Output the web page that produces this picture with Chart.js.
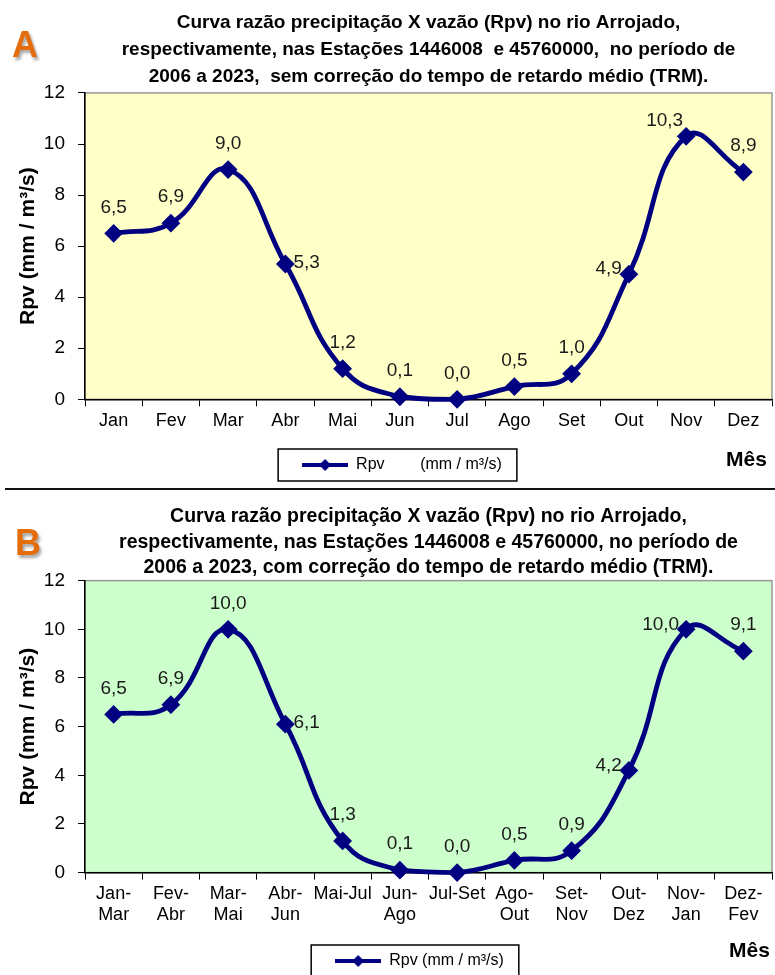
<!DOCTYPE html>
<html lang="pt">
<head>
<meta charset="UTF-8">
<title>Curva razão precipitação X vazão (Rpv)</title>
<script src="https://cdn.jsdelivr.net/npm/chart.js@4.4.1/dist/chart.umd.min.js"></script>
<style>
    body { margin: 0; background: #fff; font-family: "Liberation Sans", Arial, sans-serif; }
    .page { position: relative; width: 775px; height: 975px; overflow: hidden; }
    .box { position: absolute; left: 0; width: 775px; }
    .badge {
        position: absolute; font: bold 36px "Liberation Sans", Arial, sans-serif;
        color: #e46c0a; text-shadow: 2px 3px 3px rgba(0,0,0,0.35);
    }
    .mes { position: absolute; font: bold 21px "Liberation Sans", Arial, sans-serif; color: #000; }
    .sep { position: absolute; left: 5px; right: 0; top: 488px; height: 2px; background: #111; }
</style>
</head>
<body>
<div class="page">
    <div class="box" style="top:0;height:488px"><canvas id="chartA"></canvas></div>
    <div class="sep"></div>
    <div class="box" style="top:492px;height:483px"><canvas id="chartB"></canvas></div>
    <div class="badge" style="left:12px;top:24px">A</div>
    <div class="badge" style="left:15px;top:522px">B</div>
    <div class="mes" style="left:726px;top:447px">Mês</div>
    <div class="mes" style="left:729px;top:938px">Mês</div>
</div>

<script>
    // dados
    const mesesA = ['Jan', 'Fev', 'Mar', 'Abr', 'Mai', 'Jun', 'Jul', 'Ago', 'Set', 'Out', 'Nov', 'Dez'];
    const rpvA = [6.5, 6.9, 9.0, 5.3, 1.2, 0.1, 0.0, 0.5, 1.0, 4.9, 10.3, 8.9];

    const mesesB = [['Jan-', 'Mar'], ['Fev-', 'Abr'], ['Mar-', 'Mai'], ['Abr-', 'Jun'], 'Mai-Jul', ['Jun-', 'Ago'],
                    'Jul-Set', ['Ago-', 'Out'], ['Set-', 'Nov'], ['Out-', 'Dez'], ['Nov-', 'Jan'], ['Dez-', 'Fev']];
    const rpvB = [6.5, 6.9, 10.0, 6.1, 1.3, 0.1, 0.0, 0.5, 0.9, 4.2, 10.0, 9.1];

    const yTicks = [0, 2, 4, 6, 8, 10, 12];

    // onde fica cada rótulo de valor em relação ao ponto
    const posA = ['top', 'top', 'top', 'right', 'top', 'top', 'top', 'top', 'top', 'left', 'topleft', 'top'];
    const posB = ['top', 'top', 'top', 'right', 'top', 'top', 'top', 'top', 'top', 'left', 'left', 'top'];

    const titleA = ['Curva razão precipitação X vazão (Rpv) no rio Arrojado,',
                    'respectivamente, nas Estações 1446008  e 45760000,  no período de',
                    '2006 a 2023,  sem correção do tempo de retardo médio (TRM).'];
    const titleB = ['Curva razão precipitação X vazão (Rpv) no rio Arrojado,',
                    'respectivamente, nas Estações 1446008 e 45760000, no período de',
                    '2006 a 2023, com correção do tempo de retardo médio (TRM).'];

    const navy = '#000080';
    const FONT = '"Liberation Sans", Arial, sans-serif';

    // ícone da legenda: linha com losango
    function legendIcon() {
        const c = document.createElement('canvas');
        c.width = 46; c.height = 12;
        const g = c.getContext('2d');
        g.strokeStyle = navy; g.lineWidth = 4;
        g.beginPath(); g.moveTo(0, 6); g.lineTo(46, 6); g.stroke();
        g.fillStyle = navy;
        g.beginPath(); g.moveTo(23, 0); g.lineTo(29, 6); g.lineTo(23, 12); g.lineTo(17, 6); g.closePath(); g.fill();
        return c;
    }

    const plotBg = {
        id: 'plotBg',
        beforeDraw(chart, args, opts) {
            const { ctx, chartArea: a } = chart;
            ctx.save();
            ctx.fillStyle = opts.color;
            ctx.fillRect(a.left, a.top, a.right - a.left, a.bottom - a.top);
            ctx.strokeStyle = '#999';
            ctx.lineWidth = 1.5;
            ctx.strokeRect(a.left, a.top, a.right - a.left, a.bottom - a.top);
            ctx.restore();
        }
    };

    const valueLabels = {
        id: 'valueLabels',
        afterDatasetsDraw(chart, args, opts) {
            const { ctx } = chart;
            const meta = chart.getDatasetMeta(0);
            const vals = chart.data.datasets[0].data;
            ctx.save();
            ctx.font = '19px ' + FONT;
            ctx.fillStyle = '#1a1a1a';
            ctx.textBaseline = 'middle';
            meta.data.forEach((pt, i) => {
                const txt = vals[i].toFixed(1).replace('.', ',');
                const p = opts.pos[i];
                if (p === 'left') { ctx.textAlign = 'right'; ctx.fillText(txt, pt.x - 7, pt.y - 5); }
                else if (p === 'right') { ctx.textAlign = 'left'; ctx.fillText(txt, pt.x + 8, pt.y - 1); }
                else if (p === 'topleft') { ctx.textAlign = 'right'; ctx.fillText(txt, pt.x - 3, pt.y - 16); }
                else { ctx.textAlign = 'center'; ctx.fillText(txt, pt.x, pt.y - 26); }
            });
            ctx.restore();
        }
    };

    // moldura da legenda e pequeno deslocamento horizontal
    const legendBox = {
        id: 'legendBox',
        afterLayout(chart, args, opts) {
            const lg = chart.legend;
            const dx = opts.dx || 0;
            lg.left += dx;
            lg.right += dx;
            lg.legendHitBoxes.forEach(h => { h.left += dx; });
        },
        afterDraw(chart) {
            const hb = chart.legend.legendHitBoxes[0];
            if (!hb) return;
            const { ctx } = chart;
            ctx.save();
            ctx.strokeStyle = '#000';
            ctx.lineWidth = 1.5;
            ctx.strokeRect(hb.left - 24, hb.top - 8, hb.width + 39, hb.height + 16);
            ctx.restore();
        }
    };

    function makeChart(id, labels, values, pos, title, legendText, bg, o) {
        return new Chart(document.getElementById(id), {
            type: 'line',
            data: {
                labels: labels,
                datasets: [{
                    label: legendText,
                    data: values,
                    borderColor: navy,
                    backgroundColor: navy,
                    borderWidth: 4.8,
                    pointStyle: 'rectRot',
                    pointRadius: 6,
                    pointHoverRadius: 6,
                    tension: 0.45,
                    fill: false,
                    clip: false
                }]
            },
            options: {
                responsive: true,
                maintainAspectRatio: false,
                animation: false,
                layout: { autoPadding: false, padding: { left: 12, right: 3, top: o.top, bottom: o.bottom } },
                scales: {
                    x: {
                        offset: true,
                        grid: { offset: true, drawOnChartArea: false, drawTicks: true, tickLength: 7, color: '#000' },
                        border: { display: true, color: '#000', width: 1.5 },
                        ticks: { color: '#000', font: { family: FONT, size: 18, lineHeight: 1.15 }, padding: o.xPad, maxRotation: 0, autoSkip: false },
                        afterFit: s => { s.height += o.xExtra; }
                    },
                    y: {
                        min: 0, max: 12,
                        afterBuildTicks: s => { s.ticks = yTicks.map(v => ({ value: v })); },
                        grid: { drawOnChartArea: false, drawTicks: true, tickLength: 7, color: '#000' },
                        border: { display: true, color: '#000', width: 1.5 },
                        ticks: { color: '#000', font: { family: FONT, size: 19 }, padding: 13 },
                        title: { display: true, text: 'Rpv (mm / m³/s)', color: '#000', font: { family: FONT, size: 21, weight: 'bold' }, padding: 4 },
                        afterFit: s => { s.width = 73; }
                    }
                },
                plugins: {
                    title: {
                        display: true, text: title, color: '#000', fullSize: false,
                        font: { family: FONT, size: o.titleSize, weight: 'bold', lineHeight: o.titleLh },
                        padding: o.titlePad
                    },
                    legend: {
                        position: 'bottom',
                        fullSize: o.legendFull,
                        labels: {
                            usePointStyle: true, pointStyle: legendIcon(), pointStyleWidth: 46,
                            color: '#000', font: { family: FONT, size: 16 }, padding: o.legendPad
                        }
                    },
                    tooltip: { enabled: false },
                    plotBg: { color: bg },
                    valueLabels: { pos: pos },
                    legendBox: { dx: o.legendDx }
                }
            },
            plugins: [plotBg, valueLabels, legendBox]
        });
    }

    makeChart('chartA', mesesA, rpvA, posA, titleA, 'Rpv        (mm / m³/s)', '#ffffc8', {
        titleSize: 19, titleLh: 1.42, titlePad: { top: 6, bottom: 3 }, top: 3,
        xPad: 4, xExtra: 13, legendPad: 9, legendFull: true, legendDx: 10, bottom: 5
    });
    makeChart('chartB', mesesB, rpvB, posB, titleB, 'Rpv (mm / m³/s)', '#ccffcc', {
        titleSize: 19.5, titleLh: 1.31, titlePad: { top: 9, bottom: 0 }, top: 3,
        xPad: 4, xExtra: 19, legendPad: 5, legendFull: false, legendDx: -9, bottom: -4
    });
</script>
</body>
</html>
